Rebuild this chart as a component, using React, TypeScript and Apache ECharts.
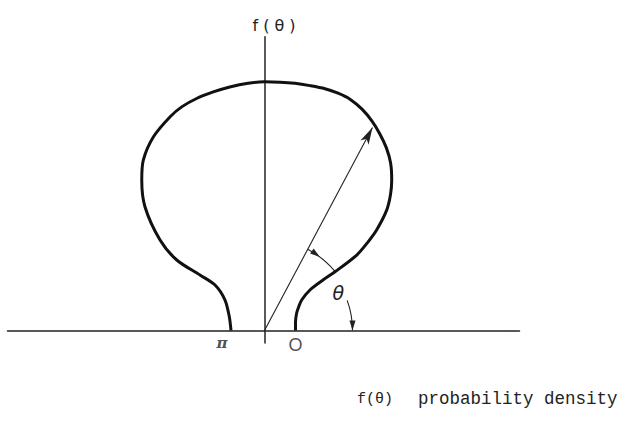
import React, { useEffect, useRef } from "react";
import * as echarts from "echarts";

// f(θ), in drawing order (θ in degrees from the right half-axis, f in chart units)
const thetaDeg = [0, 15, 28.5, 35, 39.4, 41.7, 40.8, 39.8, 39.3, 40.5, 41.9, 44.6, 47.1, 49.8, 53.0, 56.24, 59.55, 62.84, 66.24, 69.73, 72.8, 75.96, 79.5, 83.0, 86.4, 90, 93.8, 98.1, 102.3, 106.3, 110.2, 113.8, 119.8, 125.4, 129.2, 134.0, 139.1, 141.2, 139.3, 137.4, 142.3, 158.6, 180];
const density = [0.31, 0.321, 0.366, 0.419, 0.481, 0.609, 0.773, 0.918, 1.192, 1.355, 1.506, 1.716, 1.85, 1.971, 2.096, 2.195, 2.279, 2.355, 2.42, 2.468, 2.486, 2.494, 2.492, 2.492, 2.49, 2.488, 2.48, 2.462, 2.441, 2.419, 2.387, 2.338, 2.234, 2.092, 1.942, 1.721, 1.382, 1.126, 0.851, 0.672, 0.499, 0.378, 0.335];

// axes extents (chart units)
const xExtent = [-2.57, 2.55];
const yExtent = [-0.125, 2.94];

// radius vector arrow
const arrowAngleDeg = 62;
const arrowLength = 2.3;

// angle marks: [radius, from°, to°, arrowhead at°]
const angleMarkArc = [0.92, 62, 40, 53];
const thetaArc = [0.88, 20, 0, 0];
const thetaLabelPos = [0.826, 26.7];

const endLabels = ["O", "π"];
const axisName = "f ( θ )";
const footerSymbol = "f(θ)";
const footerText = "probability density";

const rad = (d: number) => (d * Math.PI) / 180;

export default function App() {
  const ref = useRef<HTMLDivElement>(null);
  useEffect(() => {
    if (!ref.current) return;
    const chart = echarts.init(ref.current, null, { renderer: "svg" });
    const curve = thetaDeg.map((t, i) => [density[i] * Math.cos(rad(t)), density[i] * Math.sin(rad(t))]);
    const last = density.length - 1;
    const ends = [
      [density[0] * Math.cos(rad(thetaDeg[0])), 0],
      [density[last] * Math.cos(rad(thetaDeg[last])), 0],
    ];
    const tip = [arrowLength * Math.cos(rad(arrowAngleDeg)), arrowLength * Math.sin(rad(arrowAngleDeg))];
    const axisLine = { show: true, onZero: true, lineStyle: { color: "#222", width: 1.5 } };
    chart.setOption({
      animation: false,
      backgroundColor: "#fff",
      grid: { left: 7.5, right: 107.5, top: 36.7, bottom: 79 },
      xAxis: {
        type: "value", min: xExtent[0], max: xExtent[1],
        axisLine, axisTick: { show: false }, axisLabel: { show: false }, splitLine: { show: false },
      },
      yAxis: {
        type: "value", min: yExtent[0], max: yExtent[1],
        axisLine, axisTick: { show: false }, axisLabel: { show: false }, splitLine: { show: false },
      },
      series: [
        {
          type: "line",
          data: curve,
          showSymbol: false,
          smooth: 0.3,
          lineStyle: { color: "#111", width: 3 },
          silent: true,
          markLine: {
            silent: true,
            symbol: ["none", "arrow"],
            symbolSize: [7, 17],
            label: { show: false },
            lineStyle: { type: "solid", color: "#222", width: 1.1 },
            data: [[{ coord: [0, 0] }, { coord: tip }]],
          },
        },
        {
          type: "scatter",
          symbolSize: 0,
          silent: true,
          label: {
            show: true,
            formatter: (p: any) => endLabels[p.dataIndex],
            position: "bottom",
            color: "#222",
          },
          data: [
            { value: ends[0], label: { fontFamily: "Liberation Sans", fontSize: 18, distance: 5 } },
            { value: ends[1], label: { fontFamily: "DejaVu Serif", fontStyle: "italic", fontWeight: "bold", fontSize: 15, distance: 5, offset: [-9, 0] } },
          ],
        },
      ],
    });

    const c = chart.convertToPixel({ gridIndex: 0 }, [0, 0]) as number[];
    const unit = (chart.convertToPixel({ gridIndex: 0 }, [1, 0]) as number[])[0] - c[0];
    const pt = (r: number, d: number) => [c[0] + r * unit * Math.cos(rad(d)), c[1] - r * unit * Math.sin(rad(d))];
    const arcEls = (spec: number[]) => {
      const [r, from, to, at] = spec;
      const tipP = pt(r, at);
      const dir = [Math.sin(rad(at)), Math.cos(rad(at))];
      const nrm = [Math.cos(rad(at)), -Math.sin(rad(at))];
      const L = 10, W = 3;
      const base = [tipP[0] - L * dir[0], tipP[1] - L * dir[1]];
      return [
        {
          type: "arc",
          silent: true,
          shape: { cx: c[0], cy: c[1], r: r * unit, startAngle: -rad(from), endAngle: -rad(to), clockwise: true },
          style: { stroke: "#222", lineWidth: 1.1, fill: null },
        },
        {
          type: "polygon",
          silent: true,
          shape: {
            points: [
              tipP,
              [base[0] + W * nrm[0], base[1] + W * nrm[1]],
              [base[0] - W * nrm[0], base[1] - W * nrm[1]],
            ],
          },
          style: { fill: "#222" },
        },
      ];
    };
    const lp = pt(thetaLabelPos[0], thetaLabelPos[1]);
    chart.setOption({
      graphic: [
        ...arcEls(angleMarkArc),
        ...arcEls(thetaArc),
        {
          type: "text", silent: true, x: lp[0], y: lp[1],
          style: { text: "θ", font: "italic 19px 'DejaVu Sans'", fill: "#222", align: "center", verticalAlign: "middle" },
        },
        {
          type: "text", silent: true, x: 274, y: 25,
          style: { text: axisName, font: "16px 'DejaVu Sans'", fill: "#222", align: "center", verticalAlign: "middle" },
        },
        {
          type: "text", silent: true, x: 357, y: 399,
          style: { text: footerSymbol, font: "15px 'Liberation Mono'", fill: "#222", align: "left", verticalAlign: "middle" },
        },
        {
          type: "text", silent: true, x: 418, y: 399,
          style: { text: footerText, font: "17.5px 'Liberation Mono'", fill: "#222", align: "left", verticalAlign: "middle" },
        },
      ],
    });
    return () => chart.dispose();
  }, []);
  return (
    <div
      ref={ref}
      style={{ position: "fixed", left: 0, top: 0, width: 627, height: 422, background: "#fff" }}
    />
  );
}
